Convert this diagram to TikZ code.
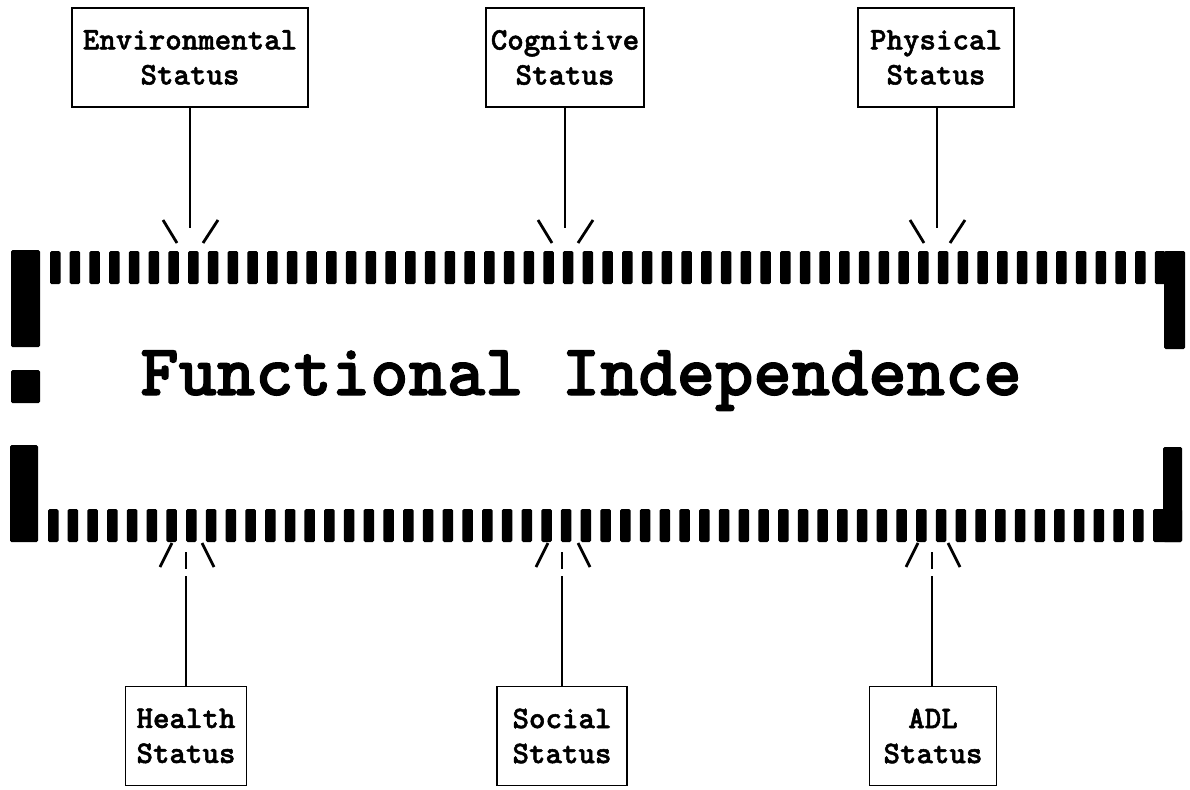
\documentclass[tikz,border=0pt]{standalone}
\usepackage{fontspec}
\newfontfamily\courfont{lmmonolt10-bold.otf}[FakeBold=1.6]
\tikzset{
  statusbox/.style={draw, line width=1.8pt, inner sep=0pt, align=center,
    font=\courfont\fontsize{31.4}{35}\selectfont, minimum height=99pt},
  tick/.style={fill=black, rounded corners=1.5pt},
  conn/.style={line width=2.4pt},
  stroke/.style={line width=2.8pt},
  title/.style={font=\courfont\fontsize{73}{80}\selectfont, inner sep=0pt}
}
\begin{document}
\begin{tikzpicture}[x=1pt,y=-1pt]
\useasboundingbox (0,0) rectangle (1190,789);
% top boxes
\node[statusbox, minimum width=236pt] (env) at (190,57.5) {Environmental\\Status};
\node[statusbox, minimum width=158pt] (cog) at (565,57.5) {Cognitive\\Status};
\node[statusbox, minimum width=156pt] (phy) at (936,57.5) {Physical\\Status};
% bottom boxes
\node[statusbox, minimum width=121pt] (hea) at (186,736) {Health\\Status};
\node[statusbox, minimum width=130pt] (soc) at (562,736) {Social\\Status};
\node[statusbox, minimum width=127pt] (adl) at (933,736) {ADL\\Status};
% title
\node[title, anchor=base] (fi) at (581,395) {Functional Independence};
% dashed frame
\foreach \i in {0,...,56} \fill[tick] ({50+19.73*\i},251) rectangle ++(10.5,33);
\foreach \i in {0,...,55} \fill[tick] ({48+19.73*\i},509) rectangle ++(10.5,33);
\fill[tick] (11,250) rectangle (40,347);
\fill[tick] (11,370) rectangle (40,403);
\fill[tick] (10,445) rectangle (38,542);
\fill[tick] (1164,251) rectangle (1185,349);
\fill[tick] (1163,447) rectangle (1182,542);
\fill[tick] (1153,509) rectangle (1182,542);
% top connectors
\foreach \n/\x in {env/190, cog/565, phy/937}{
  \coordinate (\n-end) at (\x,228);
  \draw[conn] (\n.south -| \n-end) -- (\n-end);
  \draw[stroke] (\x-27,220) -- (\x-13,243);
  \draw[stroke] (\x+28,220) -- (\x+13,243);
}
% bottom connectors
\foreach \n/\x in {hea/186, soc/562, adl/932}{
  \coordinate (\n-end) at (\x,576);
  \draw[conn] (\n.north -| \n-end) -- (\n-end);
  \draw[conn] (\x,552) -- (\x,569);
  \draw[stroke] (\x-26,567) -- (\x-14,543);
  \draw[stroke] (\x+16,543) -- (\x+28,567);
}
\end{tikzpicture}
\end{document}
